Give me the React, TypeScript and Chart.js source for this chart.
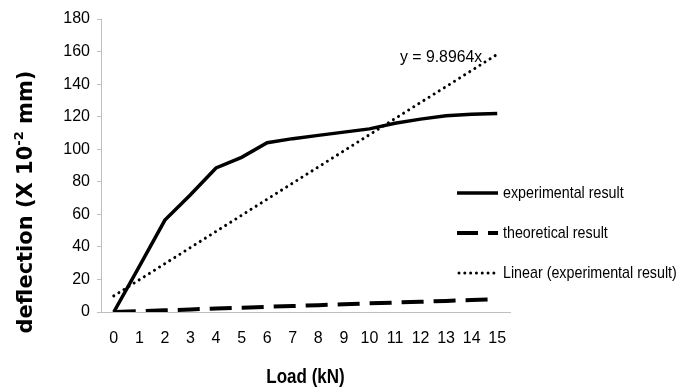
import React, { useEffect, useRef } from "react";
import Chart from "chart.js/auto";

const loads = ["0", "1", "2", "3", "4", "5", "6", "7", "8", "9", "10", "11", "12", "13", "14", "15"];
const experimental = [0, 28, 56.5, 72, 88.5, 95, 104, 106.5, 108.5, 110.5, 112.5, 116, 118.5, 120.5, 121.5, 122];
const theoretical = [0, 0.5, 1, 1.6, 2.1, 2.6, 3.2, 3.7, 4.2, 4.7, 5.3, 5.8, 6.3, 6.8, 7.4, 7.9];
const linearTrend = [9.9, 19.8, 29.7, 39.6, 49.5, 59.4, 69.3, 79.2, 89.1, 99.0, 108.9, 118.8, 128.7, 138.5, 148.4, 158.3];
const seriesNames = ["experimental result", "theoretical result", "Linear (experimental result)"];
const equationText = "y = 9.8964x";
const xTitle = "Load (kN)";
const yTitleMain = "deflection (X 10";
const yTitleSup = "-2";
const yTitleEnd = " mm)";

const SANS = "'Liberation Sans', Arial, sans-serif";

function condensedText(ctx: CanvasRenderingContext2D, text: string, x: number, y: number, sx: number, align: CanvasTextAlign) {
  ctx.save();
  ctx.translate(x, y);
  ctx.scale(sx, 1);
  ctx.textAlign = align;
  ctx.textBaseline = "middle";
  ctx.fillText(text, 0, 0);
  ctx.restore();
}

const overlayPlugin = {
  id: "overlay",
  afterDraw(chart: any) {
    const ctx = chart.ctx as CanvasRenderingContext2D;
    const area = chart.chartArea;
    ctx.save();
    ctx.fillStyle = "#000";
    // x title
    ctx.font = `bold 20px ${SANS}`;
    condensedText(ctx, xTitle, (area.left + area.right) / 2, 377, 0.85, "center");

    // y title rotated
    ctx.save();
    ctx.translate(27, 202);
    ctx.rotate(-Math.PI / 2);
    const mainFont = "bold 21px 'DejaVu Sans', sans-serif";
    const supFont = "bold 13px 'DejaVu Sans', sans-serif";
    ctx.font = mainFont;
    const w1 = ctx.measureText(yTitleMain).width;
    const w3 = ctx.measureText(yTitleEnd).width;
    ctx.font = supFont;
    const w2 = ctx.measureText(yTitleSup).width;
    const total = w1 + w2 + w3;
    let x = -total / 2;
    ctx.textAlign = "left";
    ctx.textBaseline = "middle";
    ctx.font = mainFont;
    ctx.fillText(yTitleMain, x, 0);
    x += w1;
    ctx.font = supFont;
    ctx.fillText(yTitleSup, x, -7);
    x += w2;
    ctx.font = mainFont;
    ctx.fillText(yTitleEnd, x, 0);
    ctx.restore();

    // equation label
    ctx.font = `17px ${SANS}`;
    condensedText(ctx, equationText, 400, 57, 0.93, "left");

    // legend
    const ys = [193, 233, 273];
    const styles = [
      { w: 3.5, dash: [] as number[], cap: "butt" },
      { w: 4, dash: [21, 10], cap: "butt" },
      { w: 3, dash: [0.01, 5.8], cap: "round" },
    ];
    for (let i = 0; i < 3; i++) {
      ctx.save();
      ctx.strokeStyle = "#000";
      ctx.lineWidth = styles[i].w;
      ctx.setLineDash(styles[i].dash);
      ctx.lineCap = styles[i].cap as CanvasLineCap;
      ctx.beginPath();
      ctx.moveTo(i === 2 ? 459 : 457, ys[i]);
      ctx.lineTo(i === 2 ? 496 : 498, ys[i]);
      ctx.stroke();
      ctx.restore();
      ctx.font = `17px ${SANS}`;
      condensedText(ctx, seriesNames[i], 503, ys[i], 0.84, "left");
    }
    ctx.restore();
  },
};

export default function App() {
  const canvasRef = useRef<HTMLCanvasElement | null>(null);
  useEffect(() => {
    const canvas = canvasRef.current;
    if (!canvas) return;
    const chart = new Chart(canvas, {
      type: "line",
      data: {
        labels: loads,
        datasets: [
          {
            label: seriesNames[0],
            data: experimental,
            borderColor: "#000",
            borderWidth: 3.5,
            pointRadius: 0,
            tension: 0,
          },
          {
            label: seriesNames[1],
            data: theoretical,
            borderColor: "#000",
            borderWidth: 4,
            borderDash: [22, 10],
            pointRadius: 0,
            tension: 0,
          },
          {
            label: seriesNames[2],
            data: linearTrend,
            borderColor: "#000",
            borderWidth: 3,
            borderDash: [0.01, 6],
            borderCapStyle: "round",
            pointRadius: 0,
            tension: 0,
          },
        ],
      },
      options: {
        responsive: false,
        animation: false,
        layout: { padding: { left: 0, right: 179, top: 19, bottom: 0 } },
        plugins: { legend: { display: false }, tooltip: { enabled: false } },
        scales: {
          x: {
            type: "category",
            offset: true,
            grid: { display: false, drawTicks: false },
            border: { display: true, color: "#bfbfbf", width: 1 },
            ticks: { color: "#000", font: { family: SANS, size: 16 }, padding: 17, maxRotation: 0, autoSkip: false },
            afterFit: (s: any) => { s.height = 76; },
          },
          y: {
            min: 0,
            max: 180,
            grid: { display: true, drawOnChartArea: false, drawTicks: true, tickLength: 4, color: "#bfbfbf" },
            border: { display: true, color: "#bfbfbf", width: 1 },
            ticks: { stepSize: 20, color: "#000", font: { family: SANS, size: 16 }, padding: 7 },
            afterFit: (s: any) => { s.width = 101; },
          },
        },
      },
      plugins: [overlayPlugin],
    } as any);
    return () => chart.destroy();
  }, []);
  return (
    <div style={{ position: "fixed", left: 0, top: 0, width: 689, height: 388, background: "#fff" }}>
      <canvas ref={canvasRef} width={689} height={388} style={{ display: "block" }} />
    </div>
  );
}
